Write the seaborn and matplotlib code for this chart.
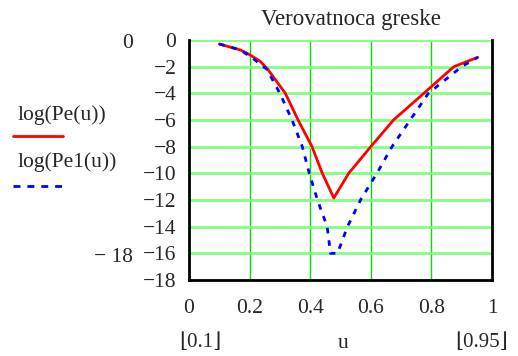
import numpy as np
import pandas as pd
import matplotlib
matplotlib.use('Agg')
import matplotlib.pyplot as plt
import seaborn as sns
from matplotlib.lines import Line2D

# values
u_pe = [0.1, 0.17, 0.2, 0.235, 0.26, 0.318, 0.36, 0.406, 0.44, 0.478, 0.527,
        0.6, 0.675, 0.775, 0.874, 0.953]
log_pe = [-0.3, -0.75, -1.1, -1.6, -2.2, -4.0, -6.0, -8.0, -10.0, -11.85, -10.0,
          -8.0, -6.0, -4.0, -2.0, -1.3]

u_pe1 = [0.1, 0.17, 0.212, 0.257, 0.30, 0.34, 0.374, 0.397, 0.424, 0.456, 0.467,
         0.49, 0.523, 0.566, 0.62, 0.67, 0.73, 0.79, 0.845, 0.9, 0.953]
log_pe1 = [-0.3, -0.75, -1.4, -2.2, -4.0, -6.0, -8.0, -10.0, -12.0, -14.0, -16.0,
           -16.0, -14.0, -12.0, -10.0, -8.0, -6.0, -4.0, -3.0, -2.0, -1.3]

x_ticks = [0, 0.2, 0.4, 0.6, 0.8, 1]
x_labels = ['0', '0.2', '0.4', '0.6', '0.8', '1']
y_ticks = [0, -2, -4, -6, -8, -10, -12, -14, -16, -18]
y_labels = ['0', '\u22122', '\u22124', '\u22126', '\u22128', '\u221210', '\u221212', '\u221214', '\u221216', '\u221218']

sns.set_style('white')
plt.rcParams['font.family'] = ['Liberation Serif', 'DejaVu Serif']

W, H = 518, 356
fig = plt.figure(figsize=(W / 100, H / 100), dpi=100)
ax = fig.add_axes([189 / W, 1 - 280 / H, (492 - 189) / W, 240 / H])

df1 = pd.DataFrame({'u': u_pe, 'v': log_pe})
df2 = pd.DataFrame({'u': u_pe1, 'v': log_pe1})
sns.lineplot(data=df1, x='u', y='v', ax=ax, color='red', lw=2, zorder=3)
sns.lineplot(data=df2, x='u', y='v', ax=ax, color='blue', lw=2,
             linestyle=(0, (2, 2.5)), zorder=3)

ax.set_xlim(0, 1)
ax.set_ylim(-18, 0)
ax.set_xticks(x_ticks)
ax.set_xticklabels(x_labels)
ax.set_yticks(y_ticks)
ax.set_yticklabels(y_labels)
ax.set_xlabel('')
ax.set_ylabel('')
ax.tick_params(length=0, labelsize=15.5)
ax.tick_params(axis='x', pad=14)
ax.tick_params(axis='y', pad=9)

ax.set_axisbelow(True)
ax.xaxis.grid(True, color='#00e000', lw=1)
ax.yaxis.grid(True, color='#80ff80', lw=2)
for side in ['left', 'bottom', 'right']:
    ax.spines[side].set_color('black')
    ax.spines[side].set_linewidth(2)
ax.spines['top'].set_visible(False)

def px(x, y):
    return x / W, 1 - y / H

fig.text(*px(351, 20), 'Verovatnoca greske', ha='center', va='center', fontsize=16.5)
fig.text(*px(128, 43), '0', ha='center', va='center', fontsize=15.5)
fig.text(*px(18, 115), 'log(Pe(u))', ha='left', va='center', fontsize=15.5)
fig.text(*px(18, 162), 'log(Pe1(u))', ha='left', va='center', fontsize=15.5)
fig.text(*px(133, 258), '\u2212 18', ha='right', va='center', fontsize=15.5)
fig.text(*px(200, 343), '\u230a0.1\u230b', ha='center', va='center', fontsize=15)
fig.text(*px(343, 343), 'u', ha='center', va='center', fontsize=15.5)
fig.text(*px(482, 343), '\u230a0.95\u230b', ha='center', va='center', fontsize=15)

fig.add_artist(Line2D([13 / W, 63 / W], [1 - 136 / H] * 2, color='red', lw=2))
fig.add_artist(Line2D([13 / W, 63 / W], [1 - 186 / H] * 2, color='blue', lw=2,
                      linestyle=(0, (2.5, 2.5))))

fig.savefig('out.png', dpi=100)
